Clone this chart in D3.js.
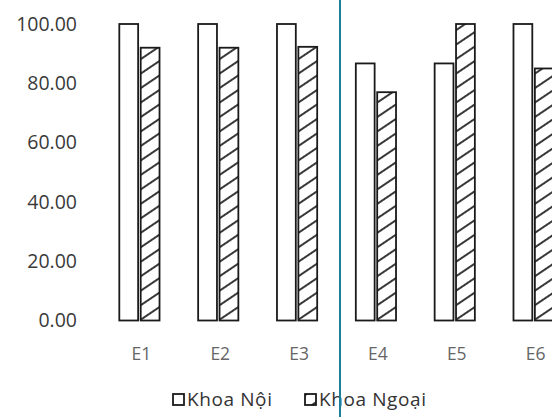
<!DOCTYPE html>
<html>
<head>
<meta charset="utf-8">
<script src="https://cdn.jsdelivr.net/npm/d3@7"></script>
<style>
  body { margin: 0; background: white; }
  text { font-family: "Open Sans", sans-serif; }
</style>
</head>
<body>
<svg id="chart"></svg>
<script>
// Scores per criterion, two departments
var categories = ["E1", "E2", "E3", "E4", "E5", "E6"];
var seriesNames = ["Khoa Nội", "Khoa Ngoại"];
var khoaNoi = [100, 100, 100, 86.7, 86.7, 100];
var khoaNgoai = [92, 92, 92.3, 77, 100, 85];
var yTicks = [0, 20, 40, 60, 80, 100];

var dimensions = {
    width: 552,
    height: 417,
    margin: { top: 24, bottom: 96, left: 100, right: -21 }
}

var svg = d3.select("#chart")
    .attr("width", dimensions.width)
    .attr("height", dimensions.height);

var rows = categories.map((c, i) => ({ cat: c, values: [khoaNoi[i], khoaNgoai[i]] }));

// hatch for the second series
var defs = svg.append("defs");
defs.append("pattern")
    .attr("id", "hatch")
    .attr("patternUnits", "userSpaceOnUse")
    .attr("width", 12)
    .attr("height", 12)
    .attr("patternTransform", "rotate(56)")
    .append("line")
    .attr("x1", 1).attr("y1", 0)
    .attr("x2", 1).attr("y2", 12)
    .attr("stroke", "#222")
    .attr("stroke-width", 1.8);

var xScale = d3.scaleBand()
    .domain(categories)
    .range([dimensions.margin.left, dimensions.width - dimensions.margin.right])
    .paddingInner(0.49)
    .paddingOuter(0.245);

var xInner = d3.scaleBand()
    .domain(d3.range(seriesNames.length))
    .range([0, xScale.bandwidth()])
    .paddingInner(0.12);

var yScale = d3.scaleLinear()
    .domain([0, 100])
    .range([dimensions.height - dimensions.margin.bottom - 0.5, dimensions.margin.top]);

var fills = ["white", "url(#hatch)"];

// y labels (no axis line)
var yAxis = svg.append("g")
    .attr("transform", `translate(77,0)`)
    .call(d3.axisLeft(yScale).tickValues(yTicks).tickFormat(d3.format(".2f")).tickSize(0).tickPadding(0));
yAxis.select(".domain").remove();
yAxis.selectAll("text")
    .style("font-size", "19.5px")
    .attr("fill", "#3a3a3a");

// bars
var groups = svg.selectAll(".group")
    .data(rows)
    .enter()
    .append("g")
    .attr("class", "group")
    .attr("transform", d => `translate(${xScale(d.cat)},0)`);

groups.selectAll("rect")
    .data(d => d.values)
    .enter()
    .append("rect")
    .attr("x", (d, i) => xInner(i))
    .attr("y", d => yScale(d))
    .attr("width", xInner.bandwidth())
    .attr("height", d => yScale(0) - yScale(d))
    .attr("fill", (d, i) => fills[i])
    .attr("stroke", "#1a1a1a")
    .attr("stroke-width", 1.8);

// x labels
var xAxis = svg.append("g")
    .attr("transform", `translate(2,${yScale(0) + 27})`)
    .call(d3.axisBottom(xScale).tickSize(0).tickPadding(0));
xAxis.select(".domain").remove();
xAxis.selectAll("text")
    .style("font-size", "17.5px")
    .attr("fill", "#666");

// legend
var legendX = [173, 305];
var legend = svg.selectAll(".legend")
    .data(seriesNames)
    .enter()
    .append("g")
    .attr("class", "legend")
    .attr("transform", (d, i) => `translate(${legendX[i]},394)`);

legend.append("rect")
    .attr("width", 11)
    .attr("height", 11)
    .attr("fill", (d, i) => fills[i])
    .attr("stroke", "#1a1a1a")
    .attr("stroke-width", 1.8);

legend.append("text")
    .attr("x", 14)
    .attr("y", 5)
    .attr("dy", ".35em")
    .style("font-size", "19px")
    .style("letter-spacing", "0.6px")
    .attr("fill", "#333")
    .text(d => d);

// teal rule from the scanned page
svg.append("line")
    .attr("x1", 340).attr("x2", 340)
    .attr("y1", 0).attr("y2", dimensions.height)
    .attr("stroke", "#1d7f98")
    .attr("stroke-width", 2);
</script>
</body>
</html>
